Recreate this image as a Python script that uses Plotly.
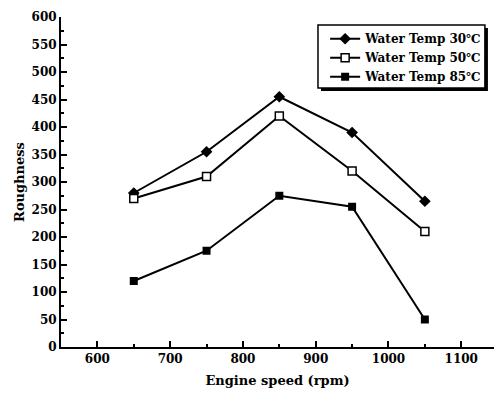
import plotly.graph_objects as go

speed = [650, 750, 850, 950, 1050]
temp30 = [280, 355, 455, 390, 265]
temp50 = [270, 310, 420, 320, 210]
temp85 = [120, 175, 275, 255, 50]
names = ["Water Temp 30\u2103", "Water Temp 50\u2103", "Water Temp 85\u2103"]

FONT = "DejaVu Serif"
fig = go.Figure()
fig.add_trace(go.Scatter(x=speed, y=temp30, name=names[0], mode="lines+markers",
                         line=dict(color="black", width=2),
                         marker=dict(symbol="diamond", size=9, color="black")))
fig.add_trace(go.Scatter(x=speed, y=temp50, name=names[1], mode="lines+markers",
                         line=dict(color="black", width=2),
                         marker=dict(symbol="square", size=8, color="white",
                                     line=dict(color="black", width=1.5))))
fig.add_trace(go.Scatter(x=speed, y=temp85, name=names[2], mode="lines+markers",
                         line=dict(color="black", width=2),
                         marker=dict(symbol="square", size=8, color="black")))

axis_common = dict(showline=True, linecolor="black", linewidth=2, ticks="inside",
                   tickcolor="black", tickwidth=1.5, ticklen=6, showgrid=False,
                   zeroline=False, mirror=False,
                   tickfont=dict(family=FONT, size=12, color="black", weight="bold"))
fig.update_xaxes(range=[550, 1145], tick0=600, dtick=100,
                 minor=dict(ticks="inside", ticklen=3, dtick=50, tickcolor="black", showgrid=False),
                 title=dict(text="Engine speed (rpm)", font=dict(family=FONT, size=13, color="black", weight="bold"), standoff=10),
                 **axis_common)
fig.update_yaxes(range=[0, 600], tick0=0, dtick=50,
                 minor=dict(ticks="inside", ticklen=3, dtick=25, tickcolor="black", showgrid=False),
                 title=dict(text="Roughness", font=dict(family=FONT, size=13, color="black", weight="bold"), standoff=4),
                 **axis_common)

fig.update_layout(
    width=494, height=394,
    margin=dict(l=61, r=0, t=17, b=47),
    paper_bgcolor="white", plot_bgcolor="white",
    font=dict(family=FONT, color="black"),
    legend=dict(x=0.61, y=0.978, xanchor="left", yanchor="top",
                bgcolor="rgba(0,0,0,0)", borderwidth=0,
                font=dict(family=FONT, size=12, color="black", weight="bold"),
                tracegroupgap=0, itemwidth=30),
    shapes=[
        dict(type="rect", xref="paper", yref="paper",
             x0=0.6005, x1=0.986, y0=0.7758, y1=0.9667,
             fillcolor="black", line=dict(width=0), layer="above"),
        dict(type="rect", xref="paper", yref="paper",
             x0=0.5935, x1=0.979, y0=0.7848, y1=0.9758,
             fillcolor="white", line=dict(color="black", width=1.5), layer="above"),
    ],
)
fig.write_html("out.html")
